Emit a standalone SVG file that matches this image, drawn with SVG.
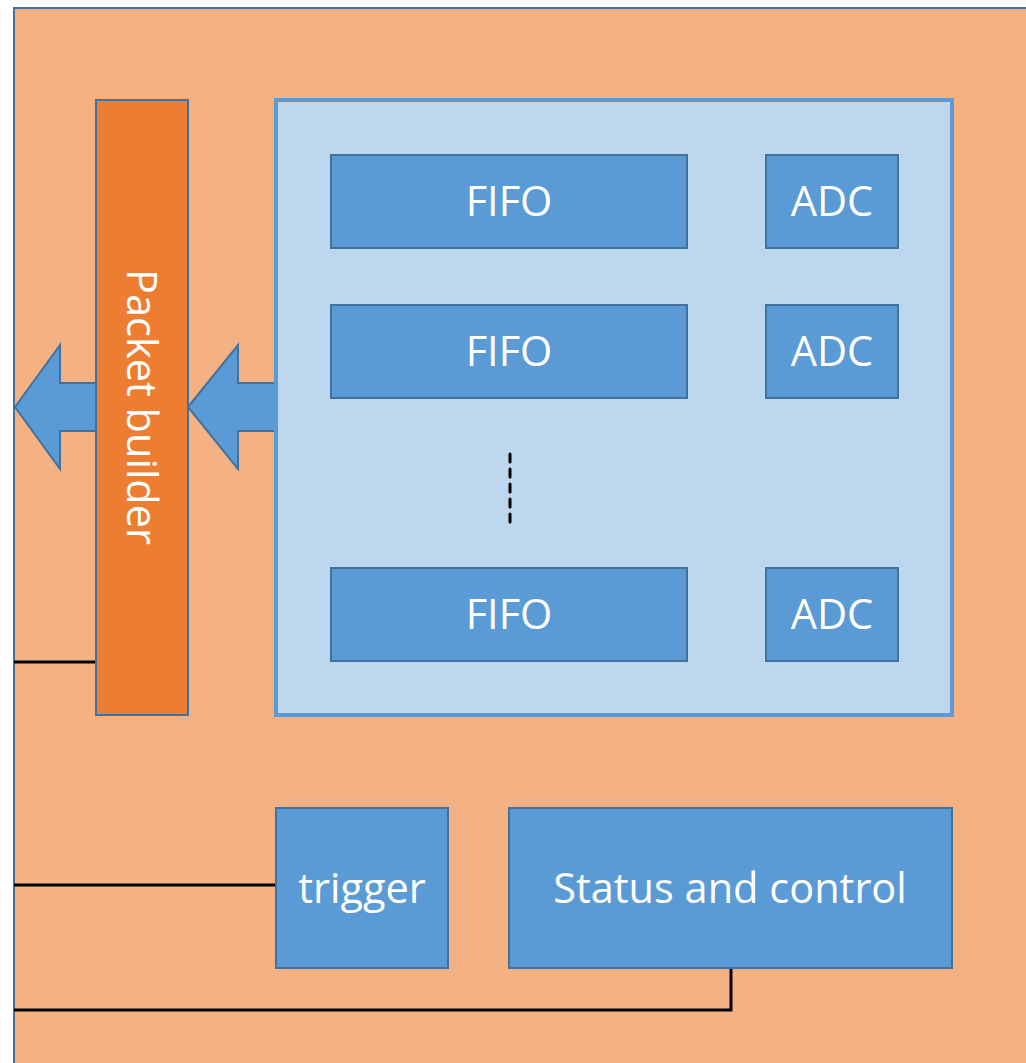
<svg xmlns="http://www.w3.org/2000/svg" width="1026" height="1063" viewBox="0 0 1026 1063">
  <style>
    .lbl { font-family: "Open Sans", "Liberation Sans", sans-serif; font-size: 41.5px; fill: #FFFFFF; text-anchor: middle; }
    .blk { fill: #5B9BD5; stroke: #41719C; stroke-width: 2; }
    .wire { fill: none; stroke: #000000; stroke-width: 3; }
  </style>
  <rect width="1026" height="1063" fill="#FFFFFF"/>

  <!-- board outline -->
  <g id="board">
    <rect x="14" y="8" width="1100" height="1100" fill="#F4B183" stroke="#41719C" stroke-width="2"/>
  </g>

  <!-- connectors -->
  <g id="connectors">
    <line class="wire" x1="14" y1="662" x2="96" y2="662"/>
    <line class="wire" x1="14" y1="885" x2="276" y2="885"/>
    <polyline class="wire" points="731,968 731,1010 14,1010"/>
    <polygon id="arrow-out" points="15,407 60,345 60,383 96,383 96,431 60,431 60,469" fill="#5B9BD5" stroke="#41719C" stroke-width="2" stroke-linejoin="miter"/>
    <polygon id="arrow-in" points="188,407 238,345 238,383 277,383 277,431 238,431 238,469" fill="#5B9BD5" stroke="#41719C" stroke-width="2" stroke-linejoin="miter"/>
  </g>

  <!-- packet builder -->
  <g id="packet-builder">
    <rect x="96" y="100" width="92" height="615" fill="#ED7D31" stroke="#41719C" stroke-width="2"/>
    <text class="lbl" transform="translate(142,407) rotate(90)" x="0" y="15">Packet builder</text>
  </g>

  <!-- channel buffers -->
  <g id="channels">
    <rect x="276" y="100" width="676" height="615" fill="#BDD7EE" stroke="#5B9BD5" stroke-width="4"/>
    <line x1="510" y1="454" x2="510" y2="522" stroke="#000000" stroke-width="3" stroke-dasharray="8 7" stroke-linecap="round"/>
  </g>
  <g id="fifo-1"><rect class="blk" x="331" y="155" width="356" height="93"/><text class="lbl" x="509" y="216">FIFO</text></g>
  <g id="adc-1"><rect class="blk" x="766" y="155" width="132" height="93"/><text class="lbl" x="832" y="216">ADC</text></g>
  <g id="fifo-2"><rect class="blk" x="331" y="305" width="356" height="93"/><text class="lbl" x="509" y="366">FIFO</text></g>
  <g id="adc-2"><rect class="blk" x="766" y="305" width="132" height="93"/><text class="lbl" x="832" y="366">ADC</text></g>
  <g id="fifo-n"><rect class="blk" x="331" y="568" width="356" height="93"/><text class="lbl" x="509" y="629">FIFO</text></g>
  <g id="adc-n"><rect class="blk" x="766" y="568" width="132" height="93"/><text class="lbl" x="832" y="629">ADC</text></g>

  <!-- control blocks -->
  <g id="trigger"><rect class="blk" x="276" y="808" width="172" height="160"/><text class="lbl" x="362" y="903">trigger</text></g>
  <g id="status"><rect class="blk" x="509" y="808" width="443" height="160"/><text class="lbl" x="730" y="903">Status and control</text></g>
</svg>
